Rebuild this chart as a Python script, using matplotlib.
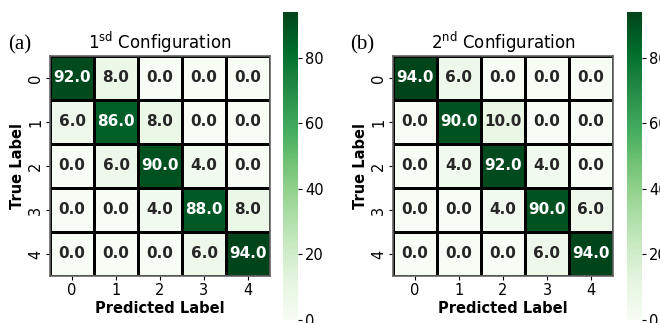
import matplotlib
matplotlib.use("Agg")
import matplotlib.pyplot as plt
import numpy as np
import seaborn as sns

# Confusion matrices (percent) for the two configurations
class_labels = ["0", "1", "2", "3", "4"]
cm_first = np.array([
    [92.0, 8.0, 0.0, 0.0, 0.0],
    [6.0, 86.0, 8.0, 0.0, 0.0],
    [0.0, 6.0, 90.0, 4.0, 0.0],
    [0.0, 0.0, 4.0, 88.0, 8.0],
    [0.0, 0.0, 0.0, 6.0, 94.0],
])
cm_second = np.array([
    [94.0, 6.0, 0.0, 0.0, 0.0],
    [0.0, 90.0, 10.0, 0.0, 0.0],
    [0.0, 4.0, 92.0, 4.0, 0.0],
    [0.0, 0.0, 4.0, 90.0, 6.0],
    [0.0, 0.0, 0.0, 6.0, 94.0],
])
titles = ["1$^{\\rm sd}$ Configuration", "2$^{\\rm nd}$ Configuration"]
panel_tags = ["(a)", "(b)"]

W, H = 660, 323
fig = plt.figure(figsize=(W / 100, H / 100), dpi=100)


def px_axes(x0, y_top, w, h):
    # axes rectangle given in pixels measured from the top-left corner
    return fig.add_axes([x0 / W, (H - y_top - h) / H, w / W, h / H])


panels = [
    (cm_first, (50, 56, 220, 220), (283, 12, 15, 308), (20, 45)),
    (cm_second, (393, 56, 220, 220), (627, 12, 15, 308), (362, 45)),
]

for i, (cm, hm_box, cb_box, tag_xy) in enumerate(panels):
    ax = px_axes(*hm_box)
    cax = px_axes(*cb_box)
    sns.heatmap(cm, ax=ax, cbar_ax=cax, cmap="Greens", annot=True, fmt=".1f",
                linewidths=1, linecolor="black", square=True,
                xticklabels=class_labels, yticklabels=class_labels,
                annot_kws={"fontsize": 11, "fontweight": "bold"})
    for sp in ax.spines.values():
        sp.set_visible(True)
        sp.set_color("0.4")
        sp.set_linewidth(1.2)
    ax.set_title(titles[i], fontsize=12, pad=5)
    ax.set_xlabel("Predicted Label", fontsize=10.5, fontweight="bold", labelpad=2)
    ax.set_ylabel("True Label", fontsize=10.5, fontweight="bold", labelpad=2)
    ax.tick_params(labelsize=10.5, length=3, pad=2)
    plt.setp(ax.get_yticklabels(), rotation=90, va="center")
    plt.setp(ax.get_xticklabels(), rotation=0)
    cax.tick_params(labelsize=10.5, length=3, pad=2)
    cax.set_yticks([0, 20, 40, 60, 80])
    fig.text(tag_xy[0] / W, 1 - tag_xy[1] / H, panel_tags[i],
             family="Liberation Serif", fontsize=15, ha="center", va="center")

fig.savefig("out.png", dpi=100)
